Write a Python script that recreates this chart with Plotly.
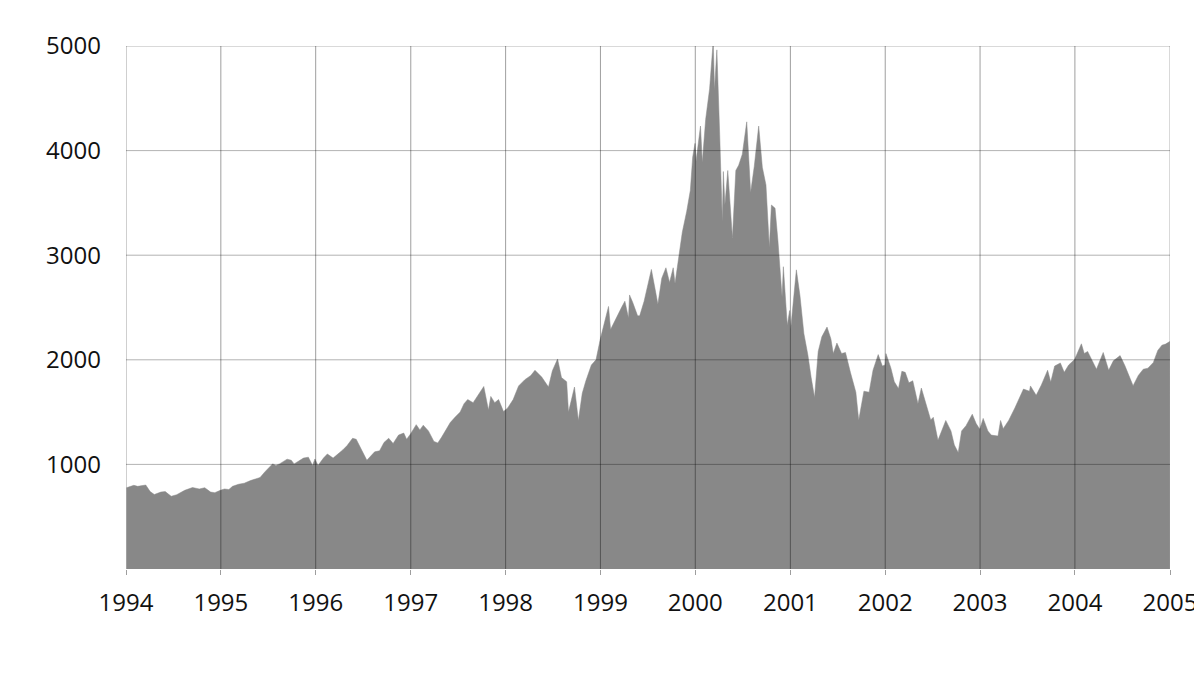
import plotly.graph_objects as go

dates = [
    "1994-01-03","1994-01-31","1994-02-15","1994-03-18","1994-04-04","1994-04-20","1994-05-15","1994-06-01",
    "1994-06-24","1994-07-15","1994-08-15","1994-09-14","1994-10-10","1994-10-31","1994-11-23","1994-12-09","1994-12-30",
    "1995-01-15","1995-02-01","1995-02-15","1995-03-10","1995-04-01","1995-04-25","1995-05-15","1995-06-01",
    "1995-06-20","1995-07-05","1995-07-19","1995-08-01","1995-08-15","1995-09-13","1995-09-29","1995-10-10",
    "1995-10-31","1995-11-15","1995-12-04","1995-12-20","1995-12-29",
    "1996-01-10","1996-01-31","1996-02-15","1996-03-08","1996-03-29","1996-04-15","1996-05-01","1996-05-22",
    "1996-06-05","1996-06-20","1996-07-05","1996-07-16","1996-07-31","1996-08-15","1996-09-03","1996-09-20",
    "1996-10-08","1996-10-25","1996-11-15","1996-12-05","1996-12-16","1996-12-31",
    "1997-01-22","1997-02-05","1997-02-18","1997-03-10","1997-03-31","1997-04-15","1997-04-30","1997-05-15",
    "1997-06-02","1997-06-20","1997-07-10","1997-07-25","1997-08-08","1997-08-29","1997-09-15","1997-10-09",
    "1997-10-27","1997-11-05","1997-11-20","1997-12-05","1997-12-24",
    "1998-01-09","1998-01-30","1998-02-20","1998-03-16","1998-04-08","1998-04-24","1998-05-20","1998-06-15",
    "1998-06-30","1998-07-20","1998-08-04","1998-08-24","1998-08-31","1998-09-23","1998-10-08","1998-10-23",
    "1998-11-06","1998-11-27","1998-12-15","1998-12-31",
    "1999-01-12","1999-02-01","1999-02-09","1999-02-24","1999-03-10","1999-03-25","1999-04-05","1999-04-19",
    "1999-04-23","1999-05-05","1999-05-24","1999-06-01","1999-06-18","1999-07-01","1999-07-16","1999-08-02",
    "1999-08-10","1999-08-25","1999-09-10","1999-09-24","1999-10-08","1999-10-15","1999-10-29","1999-11-12",
    "1999-11-29","1999-12-13","1999-12-22","1999-12-31",
    "2000-01-04","2000-01-21","2000-01-28","2000-02-10","2000-02-25","2000-03-10","2000-03-15","2000-03-24",
    "2000-04-04","2000-04-14","2000-04-18","2000-04-24","2000-05-05","2000-05-23","2000-06-05","2000-06-16",
    "2000-06-30","2000-07-17","2000-08-01","2000-08-15","2000-09-01","2000-09-15","2000-09-29","2000-10-12",
    "2000-10-20","2000-11-03","2000-11-14","2000-11-30","2000-12-05","2000-12-20","2000-12-29",
    "2001-01-02","2001-01-24","2001-02-07","2001-02-22","2001-03-09","2001-03-22","2001-04-04","2001-04-18",
    "2001-05-02","2001-05-22","2001-06-06","2001-06-15","2001-06-29","2001-07-17","2001-08-01","2001-08-20",
    "2001-09-10","2001-09-21","2001-10-11","2001-10-31","2001-11-15","2001-12-05","2001-12-21","2001-12-31",
    "2002-01-04","2002-01-23","2002-02-05","2002-02-21","2002-03-06","2002-03-19","2002-04-02","2002-04-17",
    "2002-05-07","2002-05-20","2002-06-12","2002-06-25","2002-07-05","2002-07-23","2002-08-22","2002-09-11",
    "2002-09-24","2002-10-09","2002-10-22","2002-11-08","2002-12-02","2002-12-17","2002-12-31",
    "2003-01-13","2003-01-31","2003-02-13","2003-03-11","2003-03-21","2003-03-31","2003-04-21","2003-05-15",
    "2003-06-06","2003-06-17","2003-07-10","2003-07-14","2003-08-05","2003-08-25","2003-09-18","2003-09-30",
    "2003-10-15","2003-11-06","2003-11-21","2003-12-08","2003-12-31",
    "2004-01-26","2004-02-06","2004-02-19","2004-03-24","2004-04-19","2004-05-10","2004-05-28","2004-06-23",
    "2004-07-12","2004-08-12","2004-09-01","2004-09-20","2004-10-08","2004-10-29","2004-11-15","2004-12-01",
    "2004-12-15","2004-12-31",
]

values = [
    777, 800, 790, 803, 740, 712, 735, 740,
    695, 710, 752, 779, 765, 777, 735, 730, 752,
    765, 760, 790, 810, 820, 845, 865, 875,
    930, 970, 1005, 990, 1005, 1050, 1040, 1005,
    1040, 1060, 1069, 990, 1052,
    990, 1060, 1100, 1060, 1101, 1140, 1180, 1250,
    1240, 1170, 1105, 1040, 1080, 1120, 1130, 1210,
    1250, 1200, 1280, 1300, 1240, 1291,
    1380, 1330, 1375, 1320, 1220, 1205, 1261, 1330,
    1400, 1450, 1500, 1580, 1620, 1590, 1650, 1745,
    1520, 1650, 1590, 1620, 1505,
    1540, 1620, 1750, 1810, 1850, 1900, 1835, 1740,
    1895, 2008, 1830, 1790, 1500, 1740, 1419, 1680,
    1800, 1950, 2000, 2193,
    2320, 2510, 2290, 2370, 2430, 2510, 2560, 2400,
    2620, 2550, 2420, 2420, 2560, 2710, 2864, 2640,
    2530, 2780, 2880, 2740, 2880, 2730, 2966, 3220,
    3420, 3620, 3940, 4069,
    3900, 4235, 3887, 4300, 4590, 5048, 4580, 4963,
    4150, 3321, 3800, 3480, 3810, 3165, 3810, 3860,
    3966, 4275, 3600, 3850, 4235, 3840, 3672, 3075,
    3480, 3450, 3140, 2600, 2890, 2330, 2471,
    2290, 2860, 2610, 2250, 2050, 1830, 1640, 2080,
    2220, 2313, 2200, 2060, 2160, 2060, 2070, 1880,
    1690, 1423, 1700, 1690, 1900, 2050, 1940, 1950,
    2059, 1920, 1790, 1725, 1890, 1880, 1780, 1800,
    1580, 1730, 1520, 1425, 1450, 1230, 1420, 1320,
    1185, 1114, 1320, 1370, 1480, 1390, 1336,
    1440, 1320, 1280, 1271, 1420, 1341, 1420, 1540,
    1650, 1720, 1700, 1750, 1660, 1760, 1900, 1787,
    1940, 1970, 1880, 1950, 2003,
    2153, 2060, 2080, 1910, 2070, 1900, 1990, 2040,
    1940, 1752, 1850, 1910, 1920, 1975, 2090, 2140,
    2150, 2175,
]

years = list(range(1994, 2006))
y_ticks = [1000, 2000, 3000, 4000, 5000]

FONT = "Open Sans, Noto Sans, DejaVu Sans, sans-serif"

fig = go.Figure()
fig.add_trace(go.Scatter(
    x=dates, y=values, mode="lines", fill="tozeroy",
    line=dict(color="#888888", width=0.5), fillcolor="#888888",
    hoverinfo="skip", showlegend=False,
))

shapes = []
for yr in years[1:-1]:
    shapes.append(dict(type="line", xref="x", yref="paper", x0=f"{yr}-01-01", x1=f"{yr}-01-01",
                       y0=0, y1=1, line=dict(color="rgba(0,0,0,0.38)", width=1), layer="above"))
for v in y_ticks[:-1]:
    shapes.append(dict(type="line", xref="paper", yref="y", x0=0, x1=1, y0=v, y1=v,
                       line=dict(color="rgba(0,0,0,0.3)", width=1), layer="above"))
# frame: top, right (light), left (axis)
shapes.append(dict(type="line", xref="paper", yref="y", x0=0, x1=1, y0=y_ticks[-1], y1=y_ticks[-1],
                   line=dict(color="rgba(0,0,0,0.3)", width=1), layer="above"))
shapes.append(dict(type="line", xref="x", yref="paper", x0=f"{years[-1]}-01-01", x1=f"{years[-1]}-01-01",
                   y0=0, y1=1, line=dict(color="rgba(0,0,0,0.3)", width=1), layer="above"))
shapes.append(dict(type="line", xref="x", yref="paper", x0=f"{years[0]}-01-01", x1=f"{years[0]}-01-01",
                   y0=0, y1=1, line=dict(color="rgba(0,0,0,0.38)", width=1), layer="above"))

fig.update_layout(
    width=1202, height=673,
    margin=dict(l=118, r=40, t=38, b=112),
    paper_bgcolor="white", plot_bgcolor="white",
    font=dict(family=FONT, size=24, color="#111111"),
    shapes=shapes,
    xaxis=dict(
        type="date", range=[f"{years[0]}-01-01", f"{years[-1]}-01-01"],
        tickvals=[f"{yr}-01-01" for yr in years], ticktext=[str(yr) for yr in years],
        showgrid=False, zeroline=False, showline=False,
        ticks="outside", ticklen=5, tickwidth=1, tickcolor="rgba(0,0,0,0.38)",
        ticklabelstandoff=7,
    ),
    yaxis=dict(
        range=[0, 5000], tickvals=y_ticks, ticktext=[str(v) for v in y_ticks],
        showgrid=False, zeroline=False, showline=False, ticks="",
        ticklabelstandoff=24,
    ),
)

fig.write_html("out.html")
